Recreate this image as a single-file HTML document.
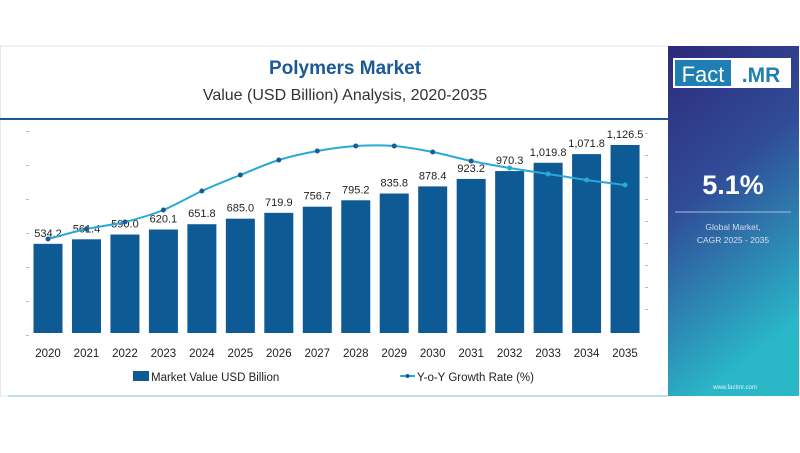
<!DOCTYPE html>
<html><head><meta charset="utf-8"><style>
body{margin:0;width:800px;height:448px;background:#fff;overflow:hidden;font-family:"Liberation Sans",sans-serif}
</style></head><body>
<svg width="800" height="448" viewBox="0 0 800 448">
<defs><linearGradient id="pg" x1="0" y1="0" x2="0.3" y2="1"><stop offset="0" stop-color="#2d2a7a"/><stop offset="0.45" stop-color="#304c98"/><stop offset="1" stop-color="#2ab8c9"/></linearGradient></defs>
<rect x="0.5" y="46" width="668" height="350" fill="#fff" stroke="#e6e6e6"/>
<line x1="8" y1="396" x2="668" y2="396" stroke="#a9d3e6" stroke-width="1.5"/>
<text x="345" y="74" text-anchor="middle" font-size="19" font-weight="bold" fill="#1a5a96">Polymers Market</text>
<text x="345" y="100" text-anchor="middle" font-size="16" fill="#333">Value (USD Billion) Analysis, 2020-2035</text>
<line x1="0" y1="119" x2="668" y2="119" stroke="#1f5a8f" stroke-width="2"/>
<g id="ticks" fill="#bbb"></g>
<g id="bars"></g>
<g id="line"></g>
<g id="years"></g>
<rect x="133" y="371" width="16" height="10" fill="#0d5a94"/>
<text x="151" y="381" font-size="11.5" fill="#222">Market Value USD Billion</text>
<line x1="400" y1="376" x2="415" y2="376" stroke="#29a9d6" stroke-width="2"/><circle cx="407.5" cy="376" r="2" fill="#1a5a96"/>
<text x="417" y="381" font-size="11.5" fill="#222">Y-o-Y Growth Rate (%)</text>
<rect x="668" y="46" width="131" height="350" fill="url(#pg)"/>
<rect x="673" y="58" width="118" height="30" fill="#fff"/>
<rect x="675" y="60" width="56" height="26" fill="#1f7fb2"/>
<text x="703" y="82" text-anchor="middle" font-size="22" fill="#fff">Fact</text>
<text x="761" y="82" text-anchor="middle" font-size="21" font-weight="bold" fill="#1f7fb2">.MR</text>
<text x="733" y="194" text-anchor="middle" font-size="27" font-weight="bold" fill="#fff">5.1%</text>
<line x1="675" y1="212" x2="791" y2="212" stroke="#a9bde0" stroke-width="1"/>
<text x="733" y="230" text-anchor="middle" font-size="8.5" fill="#dde">Global Market,</text>
<text x="733" y="243" text-anchor="middle" font-size="8.5" fill="#dde">CAGR 2025 - 2035</text>
<text x="735" y="389" text-anchor="middle" font-size="6" fill="#eef">www.factmr.com</text>
</svg>
<script>
const years=["2020","2021","2022","2023","2024","2025","2026","2027","2028","2029","2030","2031","2032","2033","2034","2035"];
const values=[534.2,561.4,590.0,620.1,651.8,685.0,719.9,756.7,795.2,835.8,878.4,923.2,970.3,1019.8,1071.8,1126.5];
const labels=["534.2","561.4","590.0","620.1","651.8","685.0","719.9","756.7","795.2","835.8","878.4","923.2","970.3","1,019.8","1,071.8","1,126.5"];
const growth=[4.7,5.2,5.55,6.15,7.1,7.9,8.65,9.1,9.35,9.35,9.05,8.6,8.25,7.95,7.65,7.4];
const NS="http://www.w3.org/2000/svg";
const base=333,x0=48,step=38.47,bw=29;
const xs=i=>x0+i*step;
const yv=v=>base-v*0.1669;
const yg=g=>base-g*20;
function mk(t,a,p){const e=document.createElementNS(NS,t);for(const k in a)e.setAttribute(k,a[k]);p.appendChild(e);return e;}
const tk=document.getElementById('ticks');
for(let i=0;i<7;i++){mk('rect',{x:26,y:131+i*34,width:3,height:1},tk);}
for(let i=0;i<9;i++){mk('rect',{x:645,y:133+i*22,width:3,height:1},tk);}
const gb=document.getElementById('bars'),gy=document.getElementById('years');
values.forEach((v,i)=>{
 const r=mk('rect',{x:xs(i)-bw/2,y:yv(v),width:bw,height:base-yv(v),fill:'#0d5a94'},gb);
 
 
 const t=mk('text',{x:xs(i),y:yv(v)-7,'text-anchor':'middle','font-size':11,fill:'#222'},gb);t.textContent=labels[i];
 
 
 const y=mk('text',{x:xs(i),y:357,'text-anchor':'middle','font-size':11.5,fill:'#222'},gy);y.textContent=years[i];
 
 
});
const gl=document.getElementById('line');
const pts=growth.map((g,i)=>[xs(i),yg(g)]);
let d='M'+pts[0][0]+','+pts[0][1];
for(let i=1;i<pts.length;i++){const p0=pts[i-1],p1=pts[i],pm=pts[i-2]||p0,pn=pts[i+1]||p1;
d+=' C'+(p0[0]+(p1[0]-pm[0])/6)+','+(p0[1]+(p1[1]-pm[1])/6)+' '+(p1[0]-(pn[0]-p0[0])/6)+','+(p1[1]-(pn[1]-p0[1])/6)+' '+p1[0]+','+p1[1];}
const pl=mk('path',{d:d,fill:'none',stroke:'#29a9d6','stroke-width':2},gl);


pts.forEach((p,i)=>{const c=mk('circle',{cx:p[0],cy:p[1],r:2.5,fill:i>11?'#29a9d6':'#1a5a96'},gl);
 
 });
</script>
</body></html>
